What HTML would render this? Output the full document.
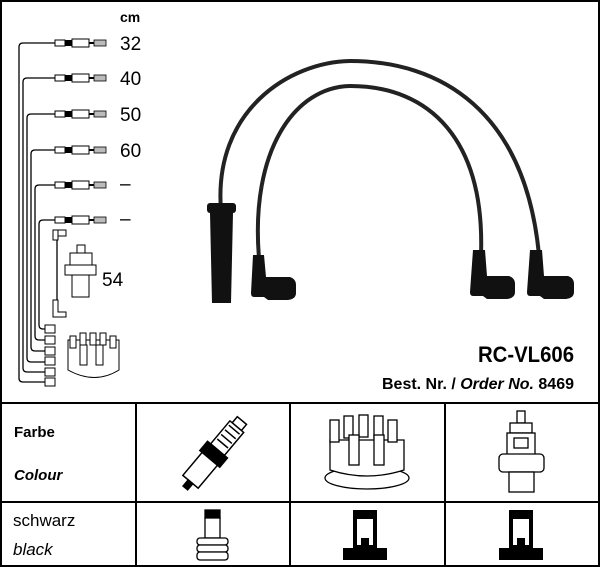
<!DOCTYPE html>
<html><head><style>body{margin:0;background:#fff}svg{display:block}</style></head><body>
<svg width="600" height="567" viewBox="0 0 600 567" xmlns="http://www.w3.org/2000/svg" font-family="Liberation Sans, sans-serif">
<rect x="1" y="1" width="598" height="565" fill="none" stroke="#000" stroke-width="2"/>
<text x="120" y="22" font-size="14" font-weight="bold">cm</text>
<g font-size="19">
<text x="120" y="50">32</text><text x="120" y="85">40</text><text x="120" y="121">50</text><text x="120" y="157">60</text>
<text x="120" y="190">–</text><text x="120" y="225">–</text><text x="102" y="286">54</text>
</g>
<g fill="none" stroke="#000" stroke-width="1.3">
<path d="M55,43 H23 Q19,43 19,47 V378 Q19,382 23,382 H45"/>
<path d="M55,78 H27 Q23,78 23,82 V368 Q23,372 27,372 H45"/>
<path d="M55,114 H31 Q27,114 27,118 V358 Q27,362 31,362 H45"/>
<path d="M55,150 H35 Q31,150 31,154 V347 Q31,351 35,351 H45"/>
<path d="M55,185 H39 Q35,185 35,189 V336 Q35,340 39,340 H45"/>
<path d="M55,220 H43 Q39,220 39,224 V325 Q39,329 43,329 H45"/>
<path d="M57,240 V300"/>
</g>
<g id="c">
<rect x="55" y="40" width="10" height="6" fill="#fff" stroke="#000"/>
<rect x="65" y="40" width="7" height="6" fill="#000"/>
<rect x="72" y="39" width="17" height="8" fill="#fff" stroke="#000"/>
<line x1="89" y1="43" x2="94" y2="43" stroke="#000" stroke-width="2"/>
<rect x="94" y="40" width="12" height="6" fill="#bbb" stroke="#000" stroke-width=".8"/>
</g>
<use href="#c" y="35"/><use href="#c" y="71"/><use href="#c" y="107"/><use href="#c" y="142"/><use href="#c" y="177"/>
<g fill="#fff" stroke="#000" stroke-width="1">
<rect x="45" y="325" width="10" height="8"/><rect x="45" y="336" width="10" height="8"/><rect x="45" y="347" width="10" height="8"/>
<rect x="45" y="357" width="10" height="8"/><rect x="45" y="368" width="10" height="8"/><rect x="45" y="378" width="10" height="8"/>
<path d="M53,230 h5 v10 h-5z M53,300 h5 v12 h8 v5 h-13z M58,230 h8 v6 h-8z"/>
<rect x="77" y="245" width="8" height="8"/><rect x="70" y="253" width="22" height="22"/><rect x="65" y="265" width="31" height="10"/><rect x="72" y="275" width="17" height="22"/>
<path d="M68,340 l0,30 q27,15 51,0 v-30z"/>
<rect x="70" y="336" width="6" height="12"/><rect x="80" y="333" width="6" height="12"/><rect x="90" y="333" width="6" height="12"/><rect x="100" y="333" width="6" height="12"/><rect x="110" y="336" width="6" height="12"/>
<rect x="80" y="345" width="7" height="20"/><rect x="96" y="345" width="7" height="20"/>
</g>
<g fill="none" stroke="#222" stroke-width="4">
<path d="M221,210 C213,110 290,62 350,61 C440,61 525,110 539,255"/>
<path d="M259,258 C250,150 295,87 350,86 C430,86 485,140 481,255"/>
</g>
<g fill="#111">
<rect x="207" y="203" width="29" height="10" rx="3"/><path d="M210,213 h23 l-2,90 h-19z"/>
<path d="M253,255 h11 l2,22 h24 q6,2 6,8 v8 q0,6 -8,7 h-20 l-4,-3 h-10 q-3,0 -3,-4z"/>
<path d="M473,250 h12 l2,26 h22 q6,2 6,8 v8 q0,6 -8,7 h-20 l-4,-3 h-10 q-3,0 -3,-4z"/>
<path d="M530,250 h12 l2,26 h24 q6,2 6,8 v8 q0,6 -8,7 h-22 l-4,-3 h-10 q-3,0 -3,-4z"/>
</g>
<text x="574" y="362" font-size="22" font-weight="bold" text-anchor="end" textLength="96" lengthAdjust="spacingAndGlyphs">RC-VL606</text>
<text x="574" y="389" font-size="16" font-weight="bold" text-anchor="end" textLength="192" lengthAdjust="spacingAndGlyphs">Best. Nr. / <tspan font-style="italic">Order No.</tspan> 8469</text>
<g stroke="#000" stroke-width="2" fill="none">
<line x1="0" y1="403" x2="600" y2="403"/><line x1="0" y1="502" x2="600" y2="502"/>
<line x1="136" y1="403" x2="136" y2="566"/><line x1="290" y1="403" x2="290" y2="566"/><line x1="445" y1="403" x2="445" y2="566"/>
</g>
<text x="14" y="437" font-size="15" font-weight="bold">Farbe</text>
<text x="14" y="480" font-size="15" font-weight="bold" font-style="italic">Colour</text>
<text x="13" y="526" font-size="17">schwarz</text>
<text x="13" y="555" font-size="17" font-style="italic">black</text>
<g transform="rotate(40 213 455)" stroke="#000" stroke-width="1.5" fill="#fff">
<rect x="207" y="410" width="12" height="8"/><rect x="204" y="418" width="18" height="30"/>
<path d="M206,422h14M206,428h14M206,434h14M206,440h14"/>
<rect x="200" y="448" width="26" height="12" fill="#000"/><rect x="203" y="460" width="20" height="30"/>
<rect x="210" y="490" width="6" height="8" fill="#000"/>
</g>
<g stroke="#000" stroke-width="1.3" fill="#fff">
<ellipse cx="367" cy="478" rx="42" ry="11"/><path d="M330,440 v30 q37,12 74,0 v-30z"/>
<rect x="330" y="420" width="9" height="22"/><rect x="344" y="416" width="9" height="22"/><rect x="359" y="415" width="9" height="22"/><rect x="374" y="416" width="9" height="22"/><rect x="388" y="420" width="9" height="22"/>
<rect x="349" y="435" width="10" height="30"/><rect x="374" y="435" width="10" height="30"/>
</g>
<g stroke="#000" stroke-width="1.3" fill="#fff">
<rect x="517" y="411" width="8" height="12"/><rect x="510" y="423" width="22" height="10"/><rect x="507" y="433" width="28" height="22"/>
<rect x="514" y="438" width="14" height="10"/><rect x="499" y="454" width="45" height="18" rx="4"/><rect x="509" y="472" width="25" height="20"/>
</g>
<g stroke="#000" stroke-width="1.3" fill="#fff">
<rect x="205" y="510" width="15" height="8" fill="#000"/><rect x="205" y="518" width="15" height="20"/>
<rect x="197" y="538" width="31" height="7" rx="3"/><rect x="197" y="545" width="31" height="7" rx="3"/><rect x="197" y="552" width="31" height="8" rx="3"/>
</g>
<g fill="#000"><path d="M353,510h24v38h10v12h-44v-12h10z"/><path d="M509,510h24v38h10v12h-44v-12h10z"/></g>
<g fill="#fff"><rect x="357" y="515" width="16" height="30"/><rect x="513" y="515" width="16" height="30"/></g>
<g fill="#000"><rect x="361" y="538" width="8" height="12"/><rect x="517" y="538" width="8" height="12"/><rect x="357" y="515" width="16" height="4"/><rect x="513" y="515" width="16" height="4"/></g>
</svg>
</body></html>
